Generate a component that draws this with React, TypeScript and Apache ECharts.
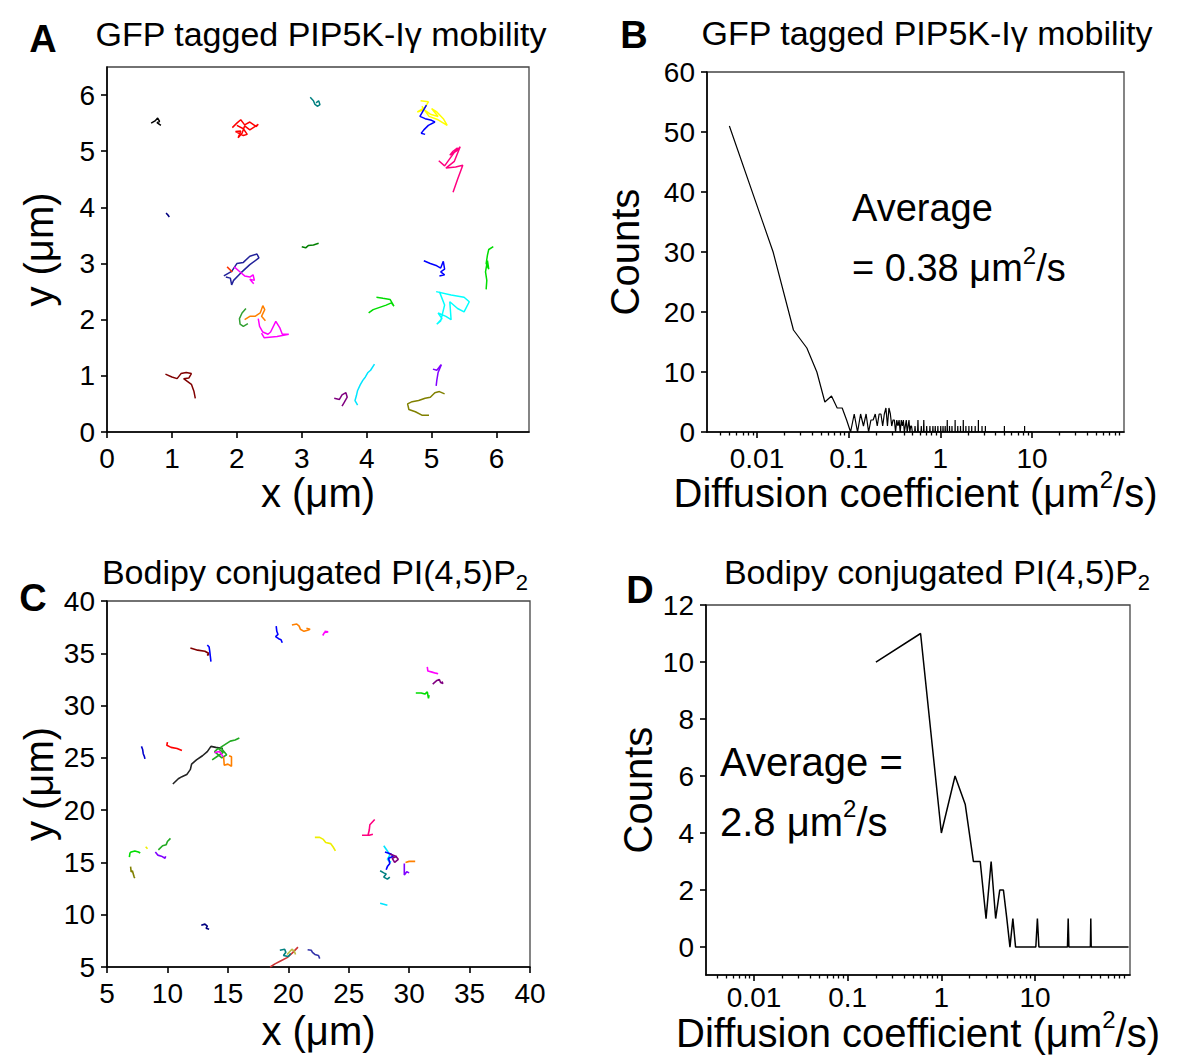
import React, { useEffect, useRef } from "react";
import * as echarts from "echarts";

const FONT = "'Liberation Sans', Arial, Helvetica, sans-serif";
const INK = "#000000";

// ---------------- Panel A : GFP tagged PIP5K-Iγ trajectories (µm) ----------------
const ticksAx = [0, 1, 2, 3, 4, 5, 6];
const ticksAy = [0, 1, 2, 3, 4, 5, 6];
const tracksA: number[][][] = [
  [[0.68, 5.5], [0.74, 5.54], [0.78, 5.59], [0.81, 5.53], [0.77, 5.51], [0.83, 5.46]],
  [[1.93, 5.42], [2.0, 5.5], [2.06, 5.56], [2.12, 5.47], [2.2, 5.52], [2.3, 5.44], [2.33, 5.48], [2.2, 5.38], [2.12, 5.45], [2.08, 5.32], [2.02, 5.24], [2.06, 5.36], [1.98, 5.35], [2.1, 5.28], [2.16, 5.3], [2.1, 5.4], [2.0, 5.46]],
  [[3.13, 5.96], [3.18, 5.9], [3.2, 5.84], [3.24, 5.8], [3.28, 5.83], [3.26, 5.9], [3.22, 5.86]],
  [[4.83, 5.9], [4.95, 5.88], [4.9, 5.78], [4.78, 5.7], [4.88, 5.74], [4.98, 5.66], [5.1, 5.62], [5.0, 5.76], [5.08, 5.7], [5.18, 5.58], [5.24, 5.46], [5.1, 5.56], [4.96, 5.62], [4.85, 5.8]],
  [[4.92, 5.82], [4.86, 5.7], [4.82, 5.62], [4.9, 5.58], [5.0, 5.55], [5.05, 5.52], [4.95, 5.46], [4.88, 5.38], [4.84, 5.32], [4.9, 5.3]],
  [[5.11, 4.83], [5.2, 4.74], [5.3, 4.9], [5.4, 5.06], [5.33, 5.0], [5.28, 4.93], [5.38, 5.0], [5.44, 5.08], [5.35, 4.82], [5.22, 4.7], [5.37, 4.72], [5.48, 4.75], [5.4, 4.5], [5.33, 4.27]],
  [[0.91, 3.9], [0.94, 3.86], [0.96, 3.83], [0.93, 3.88]],
  [[3.0, 3.3], [3.06, 3.28], [3.1, 3.32], [3.18, 3.33], [3.26, 3.36]],
  [[1.8, 2.78], [1.92, 2.86], [2.0, 3.0], [2.1, 3.02], [2.2, 3.13], [2.31, 3.17], [2.34, 3.1], [2.2, 2.98], [2.05, 2.82], [1.95, 2.7], [1.92, 2.62], [1.9, 2.74], [1.83, 2.76]],
  [[1.96, 2.94], [2.05, 2.85], [2.12, 2.78], [2.2, 2.76], [2.25, 2.8], [2.27, 2.7], [2.2, 2.72], [2.26, 2.64]],
  [[1.85, 2.94], [1.93, 2.85]],
  [[2.14, 2.2], [2.08, 2.12], [2.04, 2.02], [2.05, 1.92], [2.1, 1.88], [2.17, 1.93]],
  [[2.12, 2.0], [2.2, 2.06], [2.28, 2.06], [2.36, 2.12], [2.4, 2.25], [2.43, 2.18], [2.38, 2.06], [2.44, 1.98]],
  [[2.33, 2.02], [2.35, 1.88], [2.4, 1.78], [2.48, 1.74], [2.52, 1.78], [2.6, 1.97], [2.66, 1.86], [2.7, 1.74], [2.8, 1.74], [2.62, 1.7], [2.42, 1.68], [2.38, 1.76]],
  [[0.9, 1.03], [1.0, 0.98], [1.08, 0.95], [1.14, 1.04], [1.22, 1.06], [1.3, 1.04], [1.26, 0.96], [1.18, 0.95], [1.3, 0.85], [1.34, 0.72], [1.36, 0.6]],
  [[4.12, 1.21], [4.06, 1.1], [4.02, 1.06], [3.98, 0.98], [3.94, 0.92], [3.9, 0.84], [3.86, 0.74], [3.84, 0.64], [3.82, 0.56], [3.86, 0.48]],
  [[3.5, 0.6], [3.58, 0.58], [3.62, 0.66], [3.68, 0.7], [3.7, 0.62], [3.65, 0.52], [3.62, 0.46]],
  [[4.96, 0.3], [4.85, 0.3], [4.75, 0.36], [4.65, 0.4], [4.63, 0.5], [4.7, 0.54], [4.8, 0.56], [4.9, 0.6], [4.98, 0.62], [5.05, 0.7], [5.12, 0.72], [5.2, 0.68]],
  [[5.02, 1.12], [5.08, 1.1], [5.12, 1.16], [5.15, 1.2], [5.1, 1.06], [5.08, 0.92], [5.07, 0.82]],
  [[5.07, 2.5], [5.3, 2.44], [5.5, 2.4], [5.58, 2.32], [5.5, 2.14], [5.4, 2.2], [5.28, 2.32], [5.3, 2.0], [5.22, 2.06], [5.1, 2.12], [5.16, 2.02], [5.08, 1.92], [5.14, 1.98], [5.2, 2.26], [5.12, 2.5]],
  [[4.88, 3.05], [4.98, 3.0], [5.08, 2.96], [5.14, 2.92], [5.18, 3.04], [5.2, 2.9], [5.14, 2.85], [5.2, 2.8], [5.12, 2.78]],
  [[5.95, 3.3], [5.88, 3.25], [5.86, 3.15], [5.84, 3.0], [5.88, 2.9], [5.86, 3.05], [5.83, 2.85], [5.85, 2.7], [5.84, 2.54]],
  [[4.03, 2.12], [4.1, 2.18], [4.2, 2.22], [4.3, 2.26], [4.38, 2.3], [4.42, 2.24], [4.36, 2.36], [4.25, 2.38], [4.15, 2.4]],
];
const colorsA = [
  "#000000", "#ff0000", "#008080", "#ffff00", "#0000ff", "#ff0080", "#000080", "#008000",
  "#22229a", "#ff00ff", "#ff3300", "#33a033", "#ff8000", "#ff00ff", "#800000", "#00e5ff",
  "#800080", "#808000", "#8000ff", "#00ffff", "#0000ff", "#00dd00", "#00dd00",
];

// ---------------- Panel B : histogram of diffusion coefficients ----------------
const binsB = [
  0.005, 0.015, 0.025, 0.035, 0.045, 0.055, 0.065, 0.075, 0.085, 0.095, 0.105,
  0.115, 0.125, 0.135, 0.145, 0.155, 0.165, 0.175, 0.185, 0.195, 0.205, 0.215,
  0.225, 0.235, 0.245, 0.255, 0.265, 0.275, 0.285, 0.295, 0.305, 0.315, 0.325,
  0.335, 0.345, 0.355, 0.365, 0.375, 0.385, 0.395, 0.405, 0.415, 0.425, 0.435,
  0.445, 0.455, 0.465, 0.475, 0.485, 0.495,
];
const countsB = [
  51, 30, 17, 14, 10, 5, 6, 4, 4, 2, 0,
  3, 0, 3, 1, 3, 0, 2, 2, 3, 1, 3,
  3, 1, 3, 4, 1, 4, 3, 1, 2, 2, 0,
  2, 1, 2, 0, 2, 1, 2, 0, 1, 2, 0,
  1, 2, 0, 1, 1, 0,
];
const spikeXB = [0.53, 0.57, 0.62, 0.66, 0.71, 0.77, 0.83, 0.88, 0.94, 1.01, 1.07, 1.13, 1.19, 1.26, 1.34, 1.45, 1.55, 1.66, 1.78, 1.9, 2.05, 2.2, 2.4, 2.6, 2.85, 3.1, 5.0, 8.3];
const spikeHB = [1, 2, 1, 2, 1, 1, 1, 1, 1, 1, 1, 1, 2, 1, 1, 2, 1, 1, 2, 1, 1, 1, 1, 2, 1, 1, 1, 1];
const ticksBy = [0, 10, 20, 30, 40, 50, 60];

// shared log-axis tick values
const logMajor = [0.01, 0.1, 1, 10];
const logMinor = [
  0.004, 0.005, 0.006, 0.007, 0.008, 0.009,
  0.02, 0.03, 0.04, 0.05, 0.06, 0.07, 0.08, 0.09,
  0.2, 0.3, 0.4, 0.5, 0.6, 0.7, 0.8, 0.9,
  2, 3, 4, 5, 6, 7, 8, 9,
  20, 30, 40, 50, 60, 70, 80, 90,
];

// ---------------- Panel C : Bodipy PI(4,5)P2 trajectories (µm) ----------------
const ticksC = [5, 10, 15, 20, 25, 30, 35, 40];
const tracksC: number[][][] = [
  [[19.0, 37.6], [19.05, 37.1], [19.15, 36.8], [18.95, 36.6], [19.2, 36.4], [19.4, 36.3], [19.5, 36.0]],
  [[20.3, 37.7], [20.7, 37.8], [20.9, 37.6], [21.0, 37.3], [21.3, 37.1], [21.6, 37.2], [21.8, 37.3], [21.5, 37.4]],
  [[22.85, 36.7], [23.0, 37.0], [23.3, 37.05], [23.0, 37.1]],
  [[11.9, 35.5], [12.5, 35.3], [13.1, 35.2], [13.4, 35.0], [13.3, 34.8], [13.45, 34.9]],
  [[13.3, 35.8], [13.45, 35.6], [13.5, 35.2], [13.55, 34.7], [13.6, 34.2]],
  [[31.5, 33.7], [31.55, 33.3], [31.9, 33.2], [32.2, 33.1], [32.4, 33.05]],
  [[31.95, 32.05], [32.3, 32.4], [32.5, 32.5], [32.6, 32.2], [32.8, 32.1], [32.7, 32.3]],
  [[30.55, 31.2], [31.0, 31.2], [31.3, 31.1], [31.5, 31.3], [31.6, 30.7], [31.65, 31.0]],
  [[7.85, 26.1], [7.95, 25.8], [8.0, 25.4], [8.1, 25.1], [8.14, 24.9]],
  [[10.0, 26.5], [9.95, 26.2], [10.3, 26.0], [10.8, 25.9], [11.2, 25.7]],
  [[10.45, 22.5], [10.9, 23.0], [11.2, 23.2], [11.6, 23.4], [11.9, 23.9], [12.0, 24.4], [12.4, 24.8], [12.9, 25.2], [13.3, 25.6], [13.6, 26.1], [14.0, 26.0], [14.6, 25.9]],
  [[13.7, 24.8], [14.2, 25.2], [14.6, 25.5], [14.2, 25.9], [13.9, 25.6], [14.5, 25.0], [14.9, 25.3], [14.4, 26.0], [15.2, 26.6], [15.6, 26.7], [15.95, 26.9]],
  [[13.9, 25.5], [14.3, 25.6], [14.5, 25.3], [14.6, 25.1]],
  [[14.65, 25.1], [14.7, 24.3], [15.0, 24.4], [15.3, 24.2], [15.3, 25.1], [15.1, 25.2]],
  [[27.15, 19.1], [26.75, 18.6], [26.7, 18.1], [26.6, 17.6], [26.1, 17.6], [26.7, 17.6], [27.0, 17.7]],
  [[22.2, 17.4], [22.6, 17.4], [22.9, 17.2], [23.1, 16.9], [23.5, 16.8], [23.7, 16.5], [23.9, 16.1]],
  [[27.9, 16.6], [28.2, 16.1], [28.4, 15.7], [28.2, 15.3], [28.5, 15.0]],
  [[28.0, 16.0], [28.5, 15.8], [28.7, 15.6], [28.3, 15.4], [28.4, 14.9], [28.2, 14.6], [28.1, 14.3]],
  [[28.4, 15.8], [28.9, 15.6], [29.1, 15.3], [28.8, 15.0], [28.6, 15.4], [29.0, 15.6]],
  [[27.6, 14.2], [27.9, 14.0], [28.1, 13.9], [27.9, 13.6], [28.2, 13.4], [28.4, 13.6]],
  [[29.6, 14.9], [29.6, 14.3], [29.6, 13.8], [29.8, 14.1], [30.0, 14.0]],
  [[29.7, 15.0], [30.0, 15.1], [30.5, 15.1]],
  [[27.6, 11.1], [27.9, 11.0], [28.2, 10.9]],
  [[6.85, 15.5], [6.9, 15.9], [7.0, 16.0], [7.3, 16.1], [7.6, 16.0], [7.75, 15.9]],
  [[8.2, 16.5], [8.35, 16.3]],
  [[9.25, 16.2], [9.6, 16.6], [9.9, 16.7], [10.0, 17.0], [10.25, 17.3]],
  [[9.0, 16.0], [9.2, 15.7], [9.5, 15.6], [9.8, 15.4], [9.85, 15.6]],
  [[6.95, 14.6], [7.0, 14.1], [7.1, 14.2], [7.2, 13.8], [7.25, 13.6], [7.3, 13.5]],
  [[12.8, 9.0], [13.1, 9.1], [13.3, 8.9], [13.2, 8.7], [13.45, 8.6]],
  [[18.5, 5.0], [18.9, 5.3], [19.4, 5.6], [19.9, 5.9], [20.3, 6.3], [20.8, 6.9]],
  [[19.3, 6.6], [19.7, 6.7], [19.8, 6.4], [19.6, 6.1], [20.0, 6.0], [20.2, 6.3]],
  [[19.9, 6.2], [20.3, 6.7], [20.5, 6.5], [20.6, 6.2]],
  [[21.6, 6.65], [21.9, 6.6], [22.0, 6.4], [22.2, 6.2], [22.5, 6.1], [22.6, 5.8]],
];
const colorsC = [
  "#0000ff", "#ff8000", "#ff00ff", "#800000", "#0000ff", "#ff00ff", "#800080", "#00dd00",
  "#0000cc", "#ff0000", "#222222", "#22aa22", "#ff00ff", "#ff8000", "#ff0080", "#eeee00",
  "#00e5ff", "#0000ff", "#800080", "#008080", "#8000ff", "#ff8000", "#00e5ff", "#00dd00",
  "#eeee00", "#22aa22", "#8000ff", "#808000", "#000080", "#cc3333", "#008080", "#bbbb44", "#3333aa",
];

// ---------------- Panel D : histogram ----------------
const binsD = [0.2, 0.6, 1.0, 1.4, 1.8, 2.2, 2.6, 3.0, 3.4, 3.8, 4.2, 4.6, 5.0, 5.4, 5.8, 6.2];
const countsD = [10, 11, 4, 6, 5, 3, 3, 1, 3, 1, 2, 2, 1, 0, 1, 0];
const spikeXD = [10.6, 22.6, 39.4];
const spikeHD = [1, 1, 1];
const lastBinD = 99.8;
const ticksDy = [0, 2, 4, 6, 8, 10, 12];

// ---------------- helpers ----------------
function richSup(base: number, lh: number) {
  return {
    s: { fontSize: 24, lineHeight: 24, fontFamily: FONT, color: INK, fill: INK, verticalAlign: "top" },
    pad: { fontSize: base, lineHeight: lh, fontFamily: FONT, color: INK, fill: INK, verticalAlign: "bottom" },
  };
}
function richSub(base: number) {
  return {
    n: { fontSize: base, lineHeight: base, fontFamily: FONT, color: INK, fill: INK, verticalAlign: "top" },
    b: { fontSize: 22, lineHeight: 22, fontFamily: FONT, color: INK, fill: INK, verticalAlign: "bottom" },
    z: { fontSize: 10, lineHeight: base + 4, fontFamily: FONT, color: INK, fill: INK, verticalAlign: "bottom" },
  };
}

function histLine(bins: number[], counts: number[], sx: number[], sh: number[], half: number, endX: number) {
  const out: number[][] = bins.map((b, i) => [b, counts[i]]);
  sx.forEach((x, i) => {
    out.push([x - half, 0], [x, sh[i]], [x + half, 0]);
  });
  out.push([endX, 0]);
  return out;
}

const lineStyleAxis = { color: INK, width: 1.6 };
const labelStyle = { color: INK, fontSize: 28, fontFamily: FONT };

function linAxis(dim: "x" | "y", gridIndex: number, min: number, max: number, ticks: number[], name: string, nameGap: number) {
  return {
    type: "value",
    gridIndex,
    min,
    max,
    position: dim === "x" ? "bottom" : "left",
    offset: 0,
    axisLine: { show: true, onZero: false, lineStyle: lineStyleAxis },
    axisTick: { show: true, inside: false, length: 6, customValues: ticks, lineStyle: lineStyleAxis },
    axisLabel: { show: true, customValues: ticks, margin: 12, ...labelStyle },
    splitLine: { show: false },
    name,
    nameLocation: "middle",
    nameGap,
    nameMoveOverlap: false,
    nameRotate: dim === "y" ? 90 : 0,
    nameTextStyle: { fontSize: 40, fontFamily: FONT, color: INK },
  };
}

function logAxis(gridIndex: number, min: number, max: number, minor: boolean, nameGap: number, labelMargin = 12) {
  if (minor) {
    return {
      type: "log",
      logBase: 10,
      gridIndex,
      min,
      max,
      position: "bottom",
      offset: 0,
      axisLine: { show: false, onZero: false },
      axisTick: { show: true, inside: false, length: 3.5, customValues: logMinor, lineStyle: { color: INK, width: 1.3 } },
      axisLabel: { show: false },
      splitLine: { show: false },
    };
  }
  return {
    type: "log",
    logBase: 10,
    gridIndex,
    min,
    max,
    position: "bottom",
    offset: 0,
    axisLine: { show: true, onZero: false, lineStyle: lineStyleAxis },
    axisTick: { show: true, inside: false, length: 6, customValues: logMajor, lineStyle: lineStyleAxis },
    axisLabel: {
      show: true,
      customValues: logMajor,
      margin: labelMargin,
      ...labelStyle,
      formatter: (v: number) => String(+Number(v).toPrecision(3)),
    },
    splitLine: { show: false },
    name: "{pad|Diffusion coefficient (μm}{s|2}{pad|/s)}",
    nameLocation: "middle",
    nameGap,
    nameMoveOverlap: false,
    nameTextStyle: { fontSize: 40, fontFamily: FONT, color: INK, rich: richSup(40, 46) },
  };
}

const gridBox = { show: true, borderColor: "#444", borderWidth: 1.3, backgroundColor: "transparent", containLabel: false, outerBoundsMode: "none" };

function trackSeries(tracks: number[][][], colors: string[], gi: number, width: number) {
  return tracks.map((pts, i) => ({
    type: "line",
    xAxisIndex: gi,
    yAxisIndex: gi,
    data: pts,
    showSymbol: false,
    symbol: "none",
    silent: true,
    lineStyle: { color: colors[i], width },
    z: 3,
  }));
}

function txt(x: number, y: number, text: string, fontSize: number, opts: any = {}) {
  return {
    type: "text",
    x,
    y,
    silent: true,
    style: {
      text,
      fontSize,
      fontFamily: FONT,
      fontWeight: opts.bold ? "bold" : "normal",
      fill: INK,
      align: opts.align || "center",
      textAlign: opts.align || "center",
      verticalAlign: "middle",
      textVerticalAlign: "middle",
      rich: opts.rich,
    },
  };
}

export default function App() {
  const ref = useRef<HTMLDivElement>(null);
  useEffect(() => {
    document.body.style.margin = "0";
    const chart = echarts.init(ref.current!, null, { renderer: "svg", width: 1192, height: 1057 });
    const option: any = {
      animation: false,
      backgroundColor: "#ffffff",
      grid: [
        { left: 107, top: 67, width: 422, height: 365, ...gridBox },
        { left: 707, top: 72, width: 417, height: 360, ...gridBox },
        { left: 107, top: 601, width: 423, height: 366, ...gridBox },
        { left: 706, top: 605, width: 424, height: 370, ...gridBox },
      ],
      xAxis: [
        linAxis("x", 0, 0, 6.5, ticksAx, "x (μm)", 41),
        logAxis(1, 0.00285, 100.8, false, 35),
        linAxis("x", 2, 5, 40, ticksC, "x (μm)", 44),
        logAxis(3, 0.00307, 103.3, false, 32, 8),
        logAxis(1, 0.00285, 100.8, true, 0),
        logAxis(3, 0.00307, 103.3, true, 0),
      ],
      yAxis: [
        linAxis("y", 0, 0, 6.5, ticksAy, "y (μm)", 48),
        linAxis("y", 1, 0, 60, ticksBy, "Counts", 62),
        linAxis("y", 2, 5, 40, ticksC, "y (μm)", 48),
        linAxis("y", 3, -0.98, 12, ticksDy, "Counts", 48),
      ],
      series: [
        ...trackSeries(tracksA, colorsA, 0, 1.5),
        {
          type: "line",
          xAxisIndex: 1,
          yAxisIndex: 1,
          data: histLine(binsB, countsB, spikeXB, spikeHB, 0.005, 10),
          showSymbol: false,
          symbol: "none",
          silent: true,
          lineStyle: { color: INK, width: 1.2 },
        },
        ...trackSeries(tracksC, colorsC, 2, 1.6),
        {
          type: "line",
          xAxisIndex: 3,
          yAxisIndex: 3,
          data: histLine(binsD, countsD, spikeXD, spikeHD, 0.4, lastBinD),
          showSymbol: false,
          symbol: "none",
          silent: true,
          lineStyle: { color: INK, width: 1.5 },
        },
      ],
      graphic: [
        txt(43, 39, "A", 38, { bold: true }),
        txt(634, 35, "B", 38, { bold: true }),
        txt(33, 598, "C", 38, { bold: true }),
        txt(640, 590, "D", 38, { bold: true }),
        txt(321, 34, "GFP tagged PIP5K-Iγ mobility", 34),
        txt(927, 33, "GFP tagged PIP5K-Iγ mobility", 34),
        txt(316, 574, "{n|Bodipy conjugated PI(4,5)P}{b|2}{z|\u2009}", 34, { rich: richSub(34) }),
        txt(938, 574, "{n|Bodipy conjugated PI(4,5)P}{b|2}{z|\u2009}", 34, { rich: richSub(34) }),
        txt(852, 208, "Average", 38, { align: "left" }),
        txt(852, 265, "{pad|= 0.38 μm}{s|2}{pad|/s}", 38, { align: "left", rich: richSup(38, 44) }),
        txt(720, 762, "Average =", 40, { align: "left" }),
        txt(720, 819, "{pad|2.8 μm}{s|2}{pad|/s}", 40, { align: "left", rich: richSup(40, 46) }),
      ],
    };
    chart.setOption(option);
    return () => chart.dispose();
  }, []);
  return <div ref={ref} style={{ width: 1192, height: 1057, background: "#fff" }} />;
}
